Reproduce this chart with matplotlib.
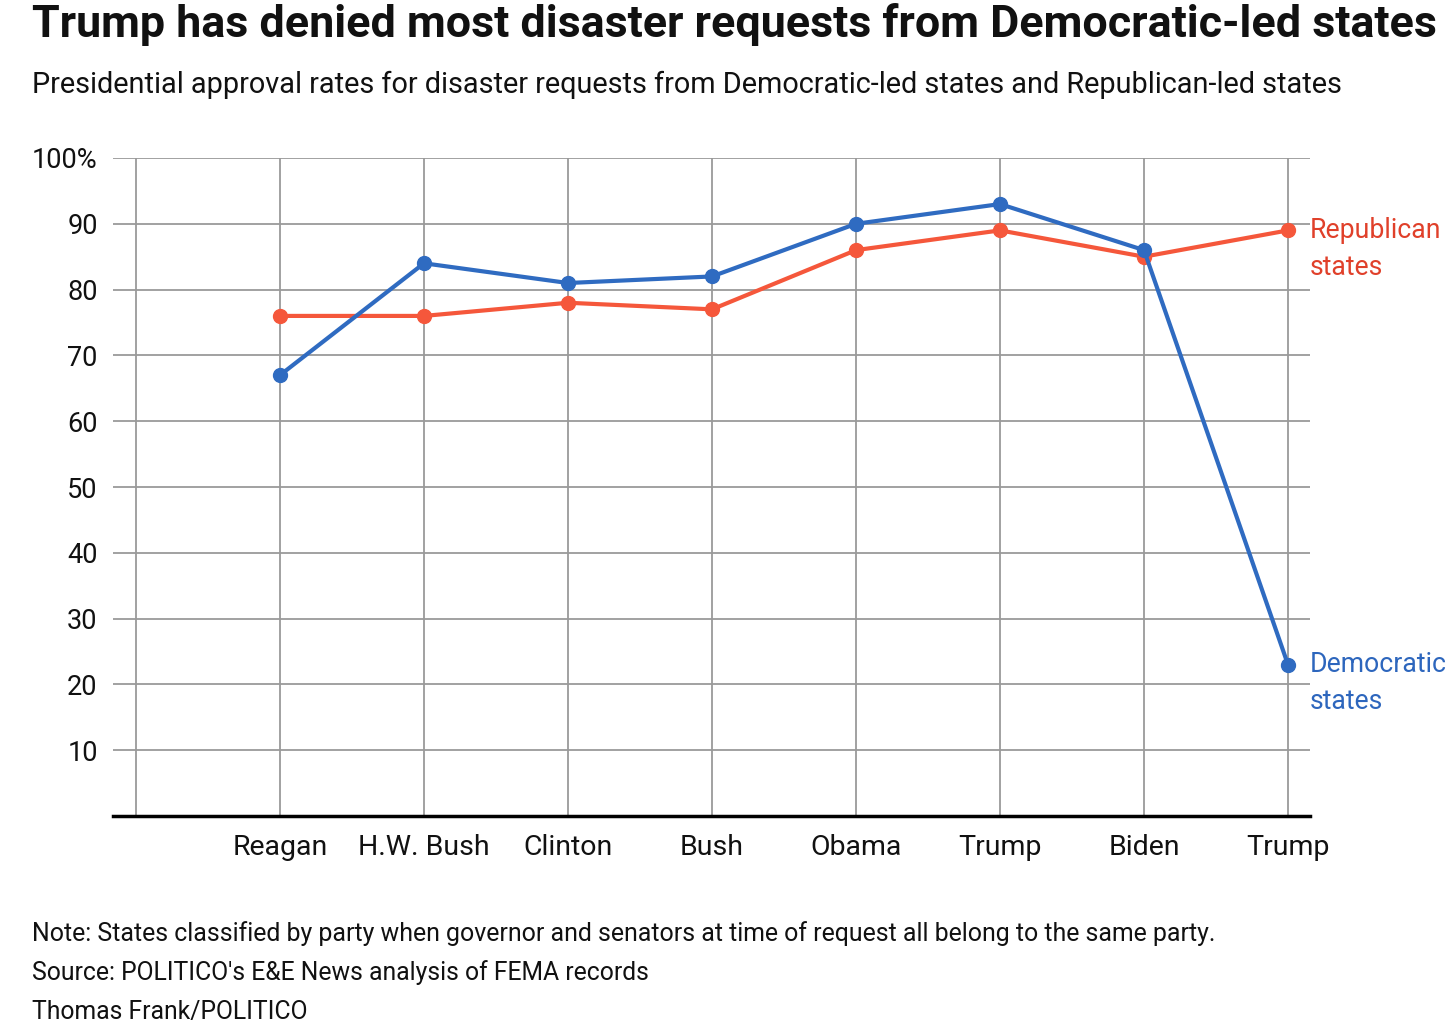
import matplotlib
matplotlib.use("Agg")
import matplotlib.pyplot as plt

presidents = ["Reagan", "H.W. Bush", "Clinton", "Bush", "Obama", "Trump", "Biden", "Trump"]
democratic = [67, 84, 81, 82, 90, 93, 86, 23]
republican = [76, 76, 78, 77, 86, 89, 85, 89]
yticks = [10, 20, 30, 40, 50, 60, 70, 80, 90, 100]
ytick_labels = ["10", "20", "30", "40", "50", "60", "70", "80", "90", "100%"]

RED = "#F5573B"
BLUE = "#2F6BC1"
RED_TXT = "#E0402A"
BLUE_TXT = "#2D66BD"
GRID = "#9a9a9a"

plt.rcParams['font.family'] = ['Roboto', 'DejaVu Sans']

W, H = 1456, 1036
fig = plt.figure(figsize=(W / 100, H / 100), dpi=100)
left, right, top, bottom = 113, 1310, 158, 816
ax = fig.add_axes([left / W, 1 - bottom / H, (right - left) / W, (bottom - top) / H])

x = list(range(len(presidents)))
ax.set_xlim((113 - 280) / 144, (1310 - 280) / 144)
ax.set_ylim(0, 100)

for yv in yticks:
    ax.axhline(yv, color=GRID, lw=1.3, zorder=1)
for xv in [-1] + x:
    ax.axvline(xv, ymin=0, ymax=1, color=GRID, lw=1.3, zorder=1)

ax.plot(x, republican, color=RED, lw=3, marker="o", ms=10, zorder=3)
ax.plot(x, democratic, color=BLUE, lw=3, marker="o", ms=10, zorder=4)

for s in ["top", "right", "left"]:
    ax.spines[s].set_visible(False)
ax.spines["bottom"].set_color("black")
ax.spines["bottom"].set_linewidth(2.5)
ax.spines["bottom"].set_zorder(5)

ax.set_yticks(yticks)
ax.set_yticklabels(ytick_labels, fontsize=19.5, color="#111111")
ax.set_xticks(x)
ax.set_xticklabels(presidents, fontsize=20.5, color="#111111")
ax.tick_params(axis="y", length=0, pad=11)
ax.tick_params(axis="x", length=0, pad=13)

def end_label(yval, lines, color):
    for i, line in enumerate(lines):
        ax.annotate(line, xy=(x[-1], yval), xytext=(16, -26.6 * i), textcoords="offset points",
                    color=color, fontsize=19.2, va="center", ha="left", annotation_clip=False)

end_label(republican[-1], ["Republican", "states"], RED_TXT)
end_label(democratic[-1], ["Democratic", "states"], BLUE_TXT)

fig.text(32 / W, 1 - 24 / H, "Trump has denied most disaster requests from Democratic-led states",
         fontsize=32.3, fontweight="bold", va="center", ha="left", color="#111111")
fig.text(32 / W, 1 - 85 / H,
         "Presidential approval rates for disaster requests from Democratic-led states and Republican-led states",
         fontsize=20.8, va="center", ha="left", color="#111111")
fig.text(32 / W, 1 - 934 / H,
         "Note: States classified by party when governor and senators at time of request all belong to the same party.",
         fontsize=17.9, va="center", ha="left", color="#111111")
fig.text(32 / W, 1 - 973 / H, "Source: POLITICO's E&E News analysis of FEMA records",
         fontsize=17.8, va="center", ha="left", color="#111111")
fig.text(32 / W, 1 - 1012 / H, "Thomas Frank/POLITICO",
         fontsize=17.8, va="center", ha="left", color="#111111")

fig.savefig("out.png", dpi=100)
